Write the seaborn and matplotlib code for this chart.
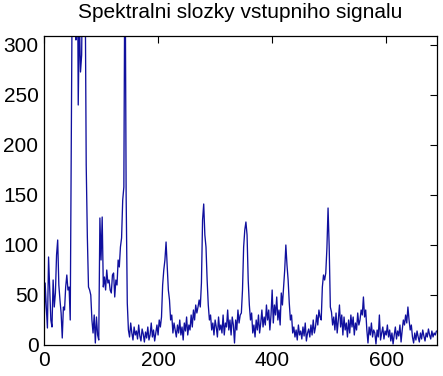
import numpy as np
import pandas as pd
import matplotlib
matplotlib.use("Agg")
import matplotlib.pyplot as plt
import seaborn as sns

title = "Spektralni slozky vstupniho signalu"
xticks = [0, 200, 400, 600]
yticks = [0, 50, 100, 150, 200, 250, 300]

# frequency bins (every 2nd bin) and magnitude
bins = np.arange(0, 690, 2)
magnitude = [
    15, 62, 38, 17, 88, 55, 25, 18, 65, 38, 52, 90, 105, 60, 45, 32, 7, 38, 35, 58,
    70, 55, 58, 25, 210, 420, 520, 460, 305, 480, 240, 330, 273, 290, 400, 420, 380, 180,
    108, 58, 55, 50, 25, 12, 30, 2, 28, 10, 5, 127, 85, 128, 58, 68, 55, 75, 62, 65,
    55, 52, 70, 72, 48, 65, 60, 85, 78, 98, 107, 145, 158, 420, 150, 42, 15,
    8, 22, 12, 5, 18, 10, 14, 6, 20, 9, 4, 16, 11, 3, 13, 7, 18, 5, 10, 22,
    8, 15, 4, 12, 20, 10, 25, 18, 28, 60, 75, 85, 103, 80, 55, 45, 25, 30, 12, 22,
    15, 8, 20, 12, 25, 10, 18, 5, 22, 14, 28, 10, 20, 15, 30, 18, 35, 25, 40, 32,
    38, 45, 38, 62, 125, 141, 110, 98, 65, 40, 25, 30, 15, 22, 10, 25, 18, 8, 28, 15,
    20, 12, 30, 10, 22, 18, 35, 15, 25, 10, 28, 20, 2, 25, 15, 35, 22, 30, 32, 55,
    98, 115, 123, 110, 65, 40, 25, 32, 12, 20, 8, 25, 15, 30, 12, 22, 35, 18, 28, 20,
    40, 25, 35, 15, 30, 55, 22, 40, 30, 48, 25, 35, 20, 52, 40, 58, 75, 100, 80, 65,
    42, 25, 30, 12, 18, 8, 15, 5, 20, 10, 14, 6, 18, 9, 22, 4, 12, 16, 8, 20,
    10, 25, 12, 18, 30, 20, 35, 28, 25, 58, 70, 65, 72, 97, 137, 98, 38, 33, 20, 28,
    15, 32, 12, 25, 40, 18, 30, 10, 28, 15, 22, 8, 25, 12, 30, 18, 28, 10, 22, 15,
    32, 20, 25, 35, 30, 48, 28, 35, 15, 2, 18, 10, 22, 8, 15, 12, 1, 15, 8, 30,
    5, 12, 18, 6, 14, 10, 20, 8, 15, 4, 12, 1, 10, 18, 6, 14, 9, 20, 3, 15,
    25, 20, 30, 22, 38, 25, 15, 20, 8, 2, 12, 5, 14, 8, 3, 12, 6, 15, 9, 4,
    12, 8, 16, 10, 6, 14, 8, 12, 10, 14,
]

df = pd.DataFrame({"bin": bins, "mag": magnitude})

sns.set_style("white")
plt.rcParams["font.family"] = ["Liberation Sans", "DejaVu Sans"]
plt.rcParams["text.color"] = "black"

fig = plt.figure(figsize=(4.43, 3.76), dpi=100)
ax = fig.add_axes([44 / 443, 31 / 376, 393 / 443, 309 / 376])

sns.lineplot(data=df, x="bin", y="mag", ax=ax, color="#10109e",
             linewidth=0.95, estimator=None)

ax.set_xlim(0, 689)
ax.set_ylim(0, 309)
ax.set_xticks(xticks)
ax.set_yticks(yticks)
ax.set_xlabel("")
ax.set_ylabel("")
ax.tick_params(direction="in", length=5, width=0.8, top=True, right=True,
               labelsize=15, colors="black", pad=4)
for s in ax.spines.values():
    s.set_visible(True)
    s.set_color("black")
    s.set_linewidth(0.9)
ax.set_title(title, fontsize=15, pad=13, color="black")

fig.savefig("out.png", dpi=100)
